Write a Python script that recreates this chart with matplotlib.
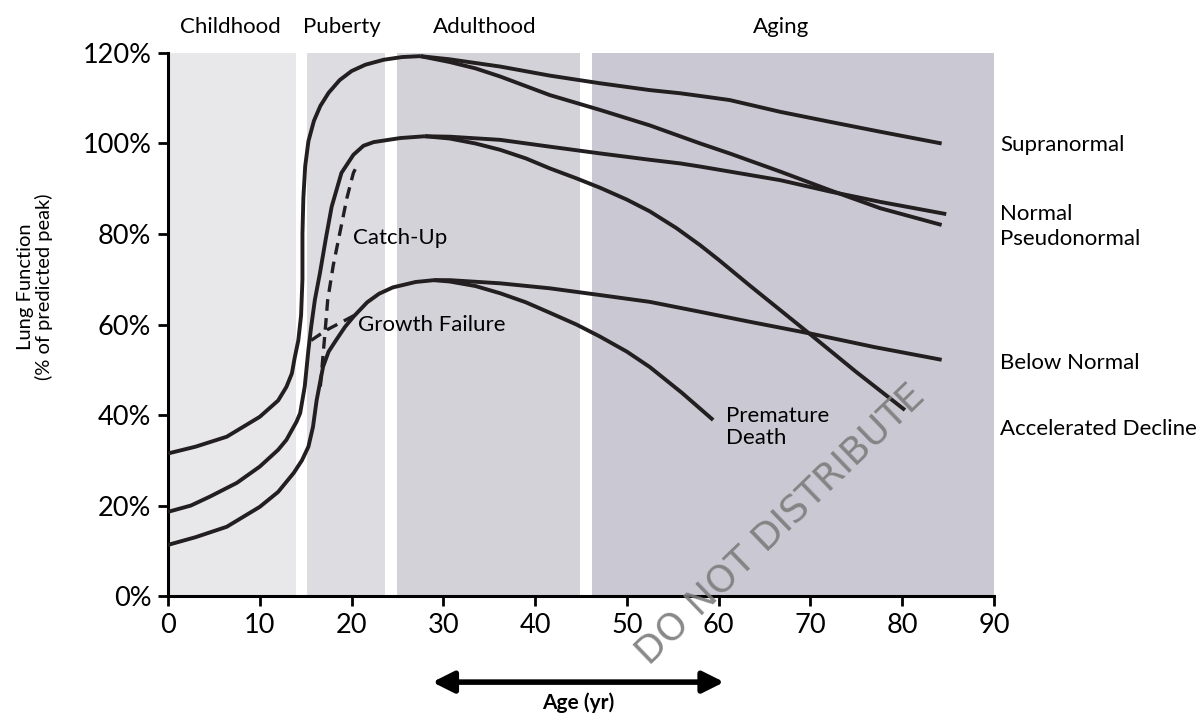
import matplotlib
matplotlib.use("Agg")
import matplotlib.pyplot as plt

# ---- data (age in years, lung function in %) ----
phases = ["Childhood", "Puberty", "Adulthood", "Aging"]
phase_start = [0, 15.1, 24.9, 46.2]
phase_end = [13.9, 23.6, 44.9, 90]
phase_label_x = [6.75, 19.0, 34.5, 66.8]
phase_colors = ["#e8e8eb", "#dcdce1", "#d3d2d9", "#cac9d3"]

# top trajectory (growth) -> Supranormal / Pseudonormal
top_x = [0, 3, 6.4, 10, 12.0, 12.9, 13.5, 13.8, 14.2, 14.5, 14.65, 14.65, 14.75, 14.95, 15.3,
         15.9, 16.6, 17.5, 18.7, 20.0, 21.5, 23.5, 25.5, 27.5]
top_y = [31.5, 33.0, 35.2, 39.6, 43.2, 46.2, 49.2, 52.6, 56.5, 62, 70, 80, 88, 95, 100.5,
         105, 108.3, 111.2, 114, 116, 117.4, 118.5, 119.1, 119.3]
supra_x = [27.5, 30.7, 36.2, 41.6, 47.1, 52.5, 55.8, 58, 61.2, 66.7, 72.1, 77.6, 84.3]
supra_y = [119.3, 118.6, 117, 115, 113.3, 111.8, 111.1, 110.5, 109.6, 107, 104.8, 102.6, 100]
pseudo_x = [27.5, 30.7, 33.5, 36.2, 41.6, 47.1, 52.5, 55.8, 58, 61.2, 66.7, 72.1, 77.6, 84.3]
pseudo_y = [119.3, 118, 116.6, 114.8, 110.7, 107.4, 104, 101.6, 100, 97.8, 93.8, 89.7, 85.7, 82]

# middle trajectory -> Normal / Accelerated Decline
mid_x = [0, 2.5, 4.6, 7.5, 10, 12, 12.9, 14.0, 14.4, 14.9, 15.3, 15.6, 16.0, 16.56,
         17.2, 17.83, 18.9, 20.2, 21.3, 22.4, 25.3, 28]
mid_y = [18.6, 20, 22, 25, 28.6, 32.3, 34.5, 38.5, 40.4, 46.3, 54.4, 59.5, 65.4, 71.4,
         79, 86, 93.5, 97.5, 99.5, 100.3, 101.2, 101.6]
normal_x = [28, 30.7, 36.2, 41.6, 47.1, 52.5, 55.8, 58, 61.2, 66.7, 72.1, 77.6, 84.8]
normal_y = [101.6, 101.5, 100.8, 99.3, 97.8, 96.4, 95.6, 94.9, 93.8, 91.9, 89.4, 87.1, 84.4]
accel_x = [28, 30.7, 33.5, 36.2, 39, 41.6, 44.5, 47.1, 50, 52.5, 55.4, 58, 60, 63.4, 66.7,
           70, 75, 80.3]
accel_y = [101.6, 101.1, 100, 98.6, 96.7, 94.5, 92.3, 90.2, 87.6, 85.0, 81.3, 77.5, 74.3,
           68.6, 63.2, 57.8, 49.5, 41.1]

# bottom trajectory -> Below Normal / Premature Death
low_x = [0, 3, 6.4, 10, 12, 13.7, 14.6, 15.3, 15.8, 16.2, 16.9, 17.5, 18.4, 19.3, 20.2,
         21.7, 23, 24.5, 27, 29]
low_y = [11.3, 13, 15.3, 19.7, 23, 27.2, 30, 33, 37.4, 43.3, 50.7, 54, 56.8, 59.5, 61.7,
         64.9, 66.8, 68.2, 69.4, 69.8]
below_x = [29, 30.7, 36.2, 41.6, 47.1, 52.5, 58, 63.4, 70, 77, 84.3]
below_y = [69.8, 69.8, 69.1, 68, 66.5, 65, 62.8, 60.6, 58, 55, 52.2]
death_x = [29, 30.7, 33.5, 36.2, 39, 41.6, 44.5, 47.1, 50, 52.5, 56, 59.4]
death_y = [69.8, 69.5, 68.5, 66.9, 64.9, 62.6, 60.0, 57.3, 54.0, 50.6, 44.9, 38.9]

# dashed transitions
catch_x = [16.6, 17.1, 17.4, 18.0, 18.7, 19.5, 20.2, 20.7]
catch_y = [46.3, 58, 65.4, 73, 80, 88, 93.5, 95.5]
fail_x = [15.6, 17.3, 20.3]
fail_y = [56.5, 58.8, 62.0]

end_labels = ["Supranormal", "Normal", "Pseudonormal", "Below Normal", "Accelerated Decline"]
end_label_y = [99.7, 84.4, 78.9, 51.4, 37.0]

x_ticks = list(range(0, 100, 10))
y_ticks = list(range(0, 140, 20))

# ---- plotting ----
plt.rcParams['font.family'] = ['Lato', 'DejaVu Sans']
ink = "#231f20"

fig = plt.figure(figsize=(12, 7.15), dpi=100)
ax = fig.add_axes([0.14, 0.1664, 0.6883, 0.7595])

for x0, x1, c in zip(phase_start, phase_end, phase_colors):
    ax.axvspan(x0, x1, ymin=0, ymax=1, color=c, lw=0, zorder=0)
for name, px in zip(phases, phase_label_x):
    ax.text(px, 125.8, name, ha='center', va='center', fontsize=16, clip_on=False)

lw = 2.8
for xs, ys in [(top_x, top_y), (supra_x, supra_y), (pseudo_x, pseudo_y),
               (mid_x, mid_y), (normal_x, normal_y), (accel_x, accel_y),
               (low_x, low_y), (below_x, below_y), (death_x, death_y)]:
    ax.plot(xs, ys, color=ink, lw=lw, solid_capstyle='butt', solid_joinstyle='round', zorder=3)

ax.plot(catch_x, catch_y, color=ink, lw=2.4, dashes=(3.5, 2.2), zorder=3)
ax.plot(fail_x, fail_y, color=ink, lw=2.4, dashes=(3.5, 2.2), zorder=3)

ax.text(20.2, 79.2, "Catch-Up", fontsize=16, va='center', ha='left')
ax.text(20.7, 59.9, "Growth Failure", fontsize=16, va='center', ha='left')
ax.text(60.8, 37.3, "Premature\nDeath", fontsize=16, va='center', ha='left', linespacing=1.1)

for lab, yy in zip(end_labels, end_label_y):
    ax.text(90.7, yy, lab, fontsize=16, va='center', ha='left', clip_on=False)

ax.set_xlim(0, 90)
ax.set_ylim(0, 120)
ax.set_xticks(x_ticks)
ax.set_yticks(y_ticks)
ax.set_yticklabels([f"{v}%" for v in y_ticks])
ax.tick_params(axis='both', direction='out', length=7, width=2, labelsize=19.5, pad=5)
for s in ['top', 'right']:
    ax.spines[s].set_visible(False)
for s in ['left', 'bottom']:
    ax.spines[s].set_linewidth(2.2)
    ax.spines[s].set_color('black')

ax.set_ylabel("Lung Function\n(% of predicted peak)", fontsize=14.5, linespacing=1.05)
ax.yaxis.set_label_coords(-0.139, 0.569)

# age arrow under the axis
ax.annotate("", xy=(60.6, 0.046), xytext=(28.8, 0.046),
            xycoords=('data', 'figure fraction'), textcoords=('data', 'figure fraction'),
            arrowprops=dict(arrowstyle='<|-|>', mutation_scale=32, lw=4, color='black',
                            shrinkA=0, shrinkB=0))
ax.annotate("Age (yr)", xy=(44.7, 0.017), xycoords=('data', 'figure fraction'),
            ha='center', va='center', fontsize=15, fontweight='bold')

# watermark
ax.text(66.8, 15.5, "DO NOT DISTRIBUTE", rotation=44, fontsize=27, color='#7c7c7c',
        ha='center', va='center', family='DejaVu Sans',
        clip_on=False, zorder=5, alpha=0.9)

fig.savefig("out.png", dpi=100)
